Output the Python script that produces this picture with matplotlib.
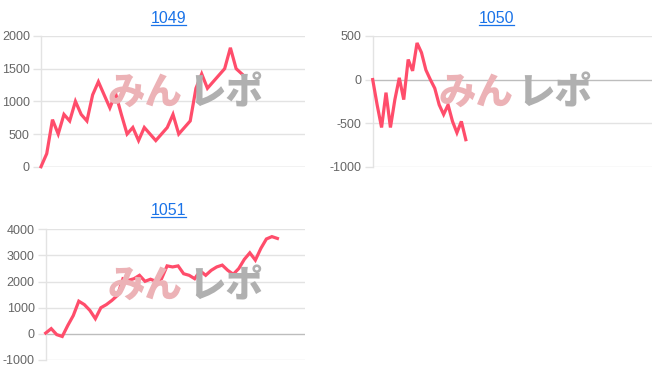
import matplotlib
matplotlib.use('Agg')
import matplotlib.pyplot as plt
from matplotlib.lines import Line2D

plt.rcParams['font.family'] = ['Liberation Sans', 'DejaVu Sans']

# ---- data ----
titles = ['1049', '1050', '1051']
v1049 = [0, 200, 720, 500, 800, 700, 1000, 800, 700, 1100, 1300, 1100, 900, 1120,
         800, 500, 600, 400, 600, 500, 400, 500, 600, 800, 500, 600, 700, 1200,
         1420, 1200, 1300, 1400, 1500, 1820, 1500, 1420]
v1050 = [0, -290, -550, -150, -550, -230, 20, -230, 230, 100, 420, 310, 110, 0,
         -100, -290, -400, -290, -480, -610, -480, -690]
v1051 = [30, 200, -30, -100, 320, 700, 1250, 1120, 900, 580, 1000, 1120, 1280, 1470,
         2110, 2050, 2110, 2240, 2010, 2090, 2010, 2110, 2600, 2560, 2600, 2300, 2240,
         2110, 2410, 2240, 2430, 2560, 2630, 2430, 2280, 2500, 2850, 3100, 2820, 3270,
         3630, 3720, 3650]
series = [v1049, v1050, v1051]
yticks = [[0, 500, 1000, 1500, 2000],
          [-1000, -500, 0, 500],
          [-1000, 0, 1000, 2000, 3000, 4000]]
n_slots = [46, 63, 47]   # category slots on each x axis

# ---- layout (pixels) ----
W, H = 652, 382
fig = plt.figure(figsize=(W / 100, H / 100), dpi=100)
boxes = [(41, 36, 305, 166.7), (372.7, 36, 652, 166.7), (45.7, 229.3, 305, 360)]
title_pos = [(168.5, 23.3), (496, 23.3), (168.5, 215.3)]
wm_pos = [(145, 226, 93), (476, 555, 93), (145, 226, 286)]

LINE = '#ff4d6b'
GRID = '#e3e3e3'
ZERO = '#bdbdbd'

for i in range(3):
    l, t, r, b = boxes[i]
    ax = fig.add_axes([l / W, 1 - b / H, (r - l) / W, (b - t) / H])
    vals = series[i]
    ax.plot(range(len(vals)), vals, color=LINE, lw=2.3, zorder=3,
            solid_joinstyle='miter', clip_on=False)
    ax.set_xlim(0, n_slots[i])
    ax.set_ylim(yticks[i][0], yticks[i][-1])
    ax.set_yticks(yticks[i])
    ax.set_yticklabels([str(v) for v in yticks[i]])
    ax.set_xticks([])
    for v in yticks[i]:
        ax.axhline(v, color=ZERO if v == 0 else GRID, lw=1, zorder=1)
    ax.tick_params(axis='y', length=6, width=1, color=GRID, pad=2,
                   labelsize=9, labelcolor='#666666')
    for s in ['top', 'right', 'bottom']:
        ax.spines[s].set_visible(False)
    ax.spines['left'].set_color(GRID)
    ax.spines['left'].set_linewidth(1)
    ax.set_facecolor('none')

    # title (link style)
    tx, ty = title_pos[i]
    fig.text(tx / W, 1 - ty / H, titles[i], ha='center', va='baseline',
             fontsize=11.5, color='#1a73e8')
    fig.add_artist(Line2D([(tx - 17.5) / W, (tx + 17.5) / W],
                          [1 - (ty + 1.5) / H, 1 - (ty + 1.5) / H],
                          color='#1a73e8', lw=0.9))

    # watermark
    x1, x2, wy = wm_pos[i]
    fig.text(x1 / W, 1 - wy / H, 'みん', ha='center', va='center', fontsize=27,
             fontweight='black', color='#ecb2b6', family='Noto Sans CJK JP',
             zorder=0.5)
    fig.text(x2 / W, 1 - wy / H, 'レポ', ha='center', va='center', fontsize=27,
             fontweight='black', color='#b0b0b0', family='Noto Sans CJK JP',
             zorder=0.5)

fig.savefig('out.png', dpi=100)
